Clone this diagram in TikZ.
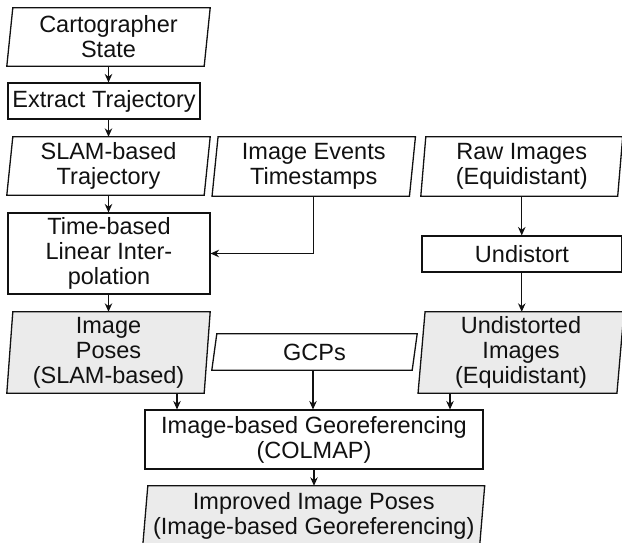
\documentclass[tikz,border=0pt]{standalone}
\usepackage{fontspec}
\setmainfont{Liberation Sans}
\usetikzlibrary{arrows.meta,backgrounds}
\newcommand\fsz{\fontsize{23.5pt}{25pt}\selectfont}
\definecolor{shade}{HTML}{EBEBEB}
\definecolor{ink}{HTML}{111111}
\tikzset{
  rbox/.style={draw=ink, line width=1.1pt, align=center, inner sep=0pt, font=\fsz, fill=white, text=ink},
  pbox/.style={align=center, inner sep=0pt, font=\fsz, text=ink},
  arr/.style={draw=ink, line width=1.2pt, -{Stealth[length=8.5pt,width=7.5pt]}},
  pline/.style={draw=ink, line width=1.3pt, line join=miter}
}
\newcommand\para[3]{%
  \draw[pline, fill=#3] ([xshift=#2]#1.north west) -- ([xshift=#2]#1.north east)
    -- ([xshift=-#2]#1.south east) -- ([xshift=-#2]#1.south west) -- cycle;}
\begin{document}
\begin{tikzpicture}[x=1pt,y=-1pt]
\clip (0,0) rectangle (622,543);
\useasboundingbox (0,0) rectangle (622,543);
% nodes
\node[pbox, minimum width=197pt, minimum height=58pt] (cart) at (108.5,37) {Cartographer\\State};
\node[rbox, minimum width=192pt, minimum height=36pt] (extract) at (104,101) {Extract Trajectory};
\node[pbox, minimum width=197pt, minimum height=58pt] (slam) at (108.5,166) {SLAM-based\\Trajectory};
\node[pbox, minimum width=197pt, minimum height=59pt] (events) at (313.75,166.5) {Image Events\\Timestamps};
\node[pbox, minimum width=196.5pt, minimum height=59pt] (raw) at (521.75,166.5) {Raw Images\\(Equidistant)};
\node[rbox, minimum width=202pt, minimum height=81pt] (time) at (109,253.5) {Time-based\\Linear Inter-\\polation};
\node[rbox, minimum width=200pt, minimum height=36pt] (undist) at (522,254) {Undistort};
\node[pbox, minimum width=197pt, minimum height=81pt] (poses) at (108.5,352.5) {Image\\Poses\\(SLAM-based)};
\node[pbox, minimum width=200pt, minimum height=36pt] (gcps) at (314.5,352) {GCPs};
\node[pbox, minimum width=198.5pt, minimum height=81pt] (undisted) at (521,352.5) {Undistorted\\Images\\(Equidistant)};
\node[rbox, minimum width=338pt, minimum height=59pt] (georef) at (314,439.5) {Image-based Georeferencing\\(COLMAP)};
\node[pbox, minimum width=336.5pt, minimum height=59pt] (improved) at (313.75,515.5) {Improved Image Poses\\(Image-based Georeferencing)};
% parallelogram outlines
\begin{scope}[on background layer]
\para{cart}{3pt}{white}
\para{slam}{3pt}{white}
\para{events}{3pt}{white}
\para{raw}{2.5pt}{white}
\para{poses}{3pt}{shade}
\para{gcps}{2.5pt}{white}
\para{undisted}{3.5pt}{shade}
\para{improved}{2.5pt}{shade}
\end{scope}
% connectors
\draw[arr] (cart.south) -- (cart.south |- extract.north);
\draw[arr] (cart.south |- extract.south) -- (cart.south |- slam.north);
\draw[arr] (slam.south) -- (slam.south |- time.north);
\draw[arr] (events.south) -- (events.south |- time.east) -- (time.east);
\draw[arr] (slam.south |- time.south) -- (poses.north);
\draw[arr] (raw.south) -- (raw.south |- undist.north);
\draw[arr] (raw.south |- undist.south) -- (raw.south |- undisted.north);
\draw[arr] ([xshift=68.5pt]poses.south) -- ([xshift=68.5pt]poses.south |- georef.north);
\draw[arr] ([xshift=-1.5pt]gcps.south) -- ([xshift=-1.5pt]gcps.south |- georef.north);
\draw[arr] ([xshift=-71pt]undisted.south) -- ([xshift=-71pt]undisted.south |- georef.north);
\draw[arr] (georef.south) -- (georef.south |- improved.north);
\end{tikzpicture}
\end{document}
